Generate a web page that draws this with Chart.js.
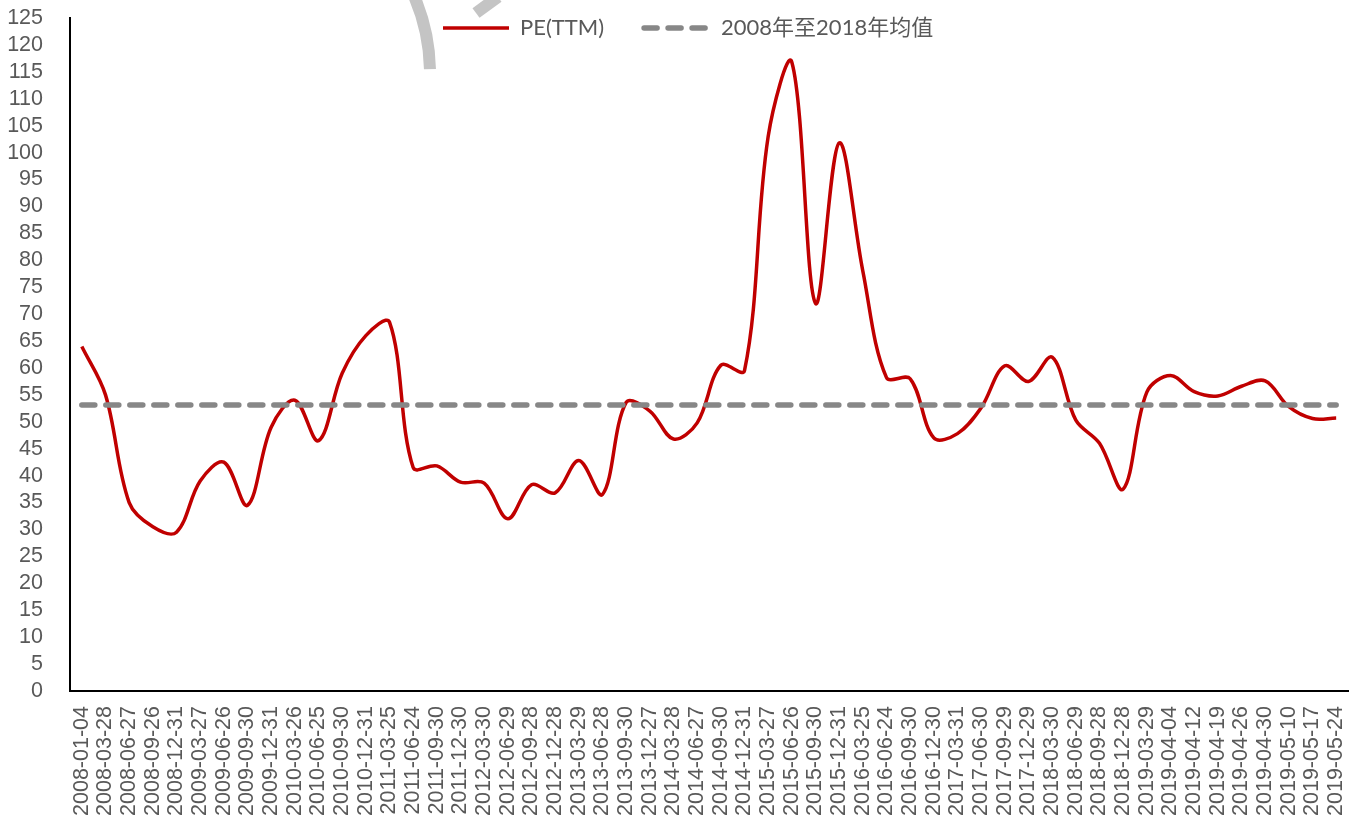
<!DOCTYPE html>
<html>
<head>
<meta charset="utf-8">
<script src="https://cdn.jsdelivr.net/npm/chart.js@4"></script>
<style>
  body { margin: 0; background: #fff; }
  canvas { display: block; }
</style>
</head>
<body>
<canvas id="peChart" width="1361" height="819"></canvas>
<script>
// --- DATA ---
const dateLabels = [
    '2008-01-04', '2008-03-28', '2008-06-27', '2008-09-26', '2008-12-31',
    '2009-03-27', '2009-06-26', '2009-09-30', '2009-12-31',
    '2010-03-26', '2010-06-25', '2010-09-30', '2010-12-31',
    '2011-03-25', '2011-06-24', '2011-09-30', '2011-12-30',
    '2012-03-30', '2012-06-29', '2012-09-28', '2012-12-28',
    '2013-03-29', '2013-06-28', '2013-09-30', '2013-12-27',
    '2014-03-28', '2014-06-27', '2014-09-30', '2014-12-31',
    '2015-03-27', '2015-06-26', '2015-09-30', '2015-12-31',
    '2016-03-25', '2016-06-24', '2016-09-30', '2016-12-30',
    '2017-03-31', '2017-06-30', '2017-09-29', '2017-12-29',
    '2018-03-30', '2018-06-29', '2018-09-28', '2018-12-28',
    '2019-03-29', '2019-04-04', '2019-04-12', '2019-04-19', '2019-04-26',
    '2019-04-30', '2019-05-10', '2019-05-17', '2019-05-24'
];

const peTTM = [
    64, 55, 35, 30.5, 29.5,
    39, 42.5, 34.5, 49,
    54, 46.5, 59, 66,
    68.5, 41.5, 41.8, 38.8,
    38.6, 32, 38.3, 36.8,
    42.8, 36.5, 53.6, 52,
    46.8, 49.8, 60.5, 59.5,
    103, 116.8, 72, 101.8,
    78, 58.2, 58, 47,
    47.8, 52.6, 60.4, 57.5,
    62, 50.3, 46, 37.5,
    55.5, 58.6, 55.6, 54.8, 56.6,
    57.6, 52.8, 50.6, 50.7
];

// moyenne 2008-2018
const meanPE = 53.1;
const meanLine = dateLabels.map(() => meanPE);

const yTicks = { min: 0, max: 125, step: 5 };

const TICK_FONT = "'Liberation Sans', Arial, sans-serif";
const LEGEND_FONT = "Lato, 'Noto Sans CJK SC', sans-serif";
const TXT = '#595959';

// --- filigrane gris en haut (arc du logo) ---
const watermark = {
    id: 'watermark',
    beforeDatasetsDraw(chart) {
        const ctx = chart.ctx;
        ctx.save();
        ctx.strokeStyle = '#c4c4c4';
        ctx.lineWidth = 12;
        ctx.beginPath();
        ctx.arc(236, 73, 194, -0.40, -0.02);
        ctx.stroke();
        ctx.beginPath();
        ctx.moveTo(476, 13);
        ctx.lineTo(498, -3);
        ctx.stroke();
        ctx.restore();
    }
};

// --- légende posée sur la zone du graphique ---
const legendPlace = {
    id: 'legendPlace',
    afterLayout(chart) {
        const lg = chart.legend;
        const pad = lg.options.labels.padding;
        lg.left = 443 - pad;
        lg.right = lg.left + 900;
        lg.width = 900;
        lg.top = 28 - pad - 11;
        lg.bottom = lg.top + 80;
        lg.height = 80;
    }
};

// échantillons de légende : reprendre tirets / épaisseur du dataset
function legendLabels(chart) {
    const items = Chart.defaults.plugins.legend.labels.generateLabels(chart);
    items.forEach(it => {
        const ds = chart.data.datasets[it.datasetIndex];
        it.lineDash = ds.borderDash || [];
        it.lineCap = ds.borderCapStyle || 'butt';
        it.lineWidth = ds.borderWidth;
        it.strokeStyle = ds.borderColor;
        it.pointStyle = 'line';
    });
    return items.sort((a, b) => a.datasetIndex - b.datasetIndex);
}

const ctx = document.getElementById('peChart').getContext('2d');

new Chart(ctx, {
    type: 'line',
    data: {
        labels: dateLabels,
        datasets: [{
            label: 'PE(TTM)',
            data: peTTM,
            borderColor: '#c00000',
            borderWidth: 3.5,
            pointRadius: 0,
            tension: 0.35,
            fill: false,
            order: 1
        }, {
            label: '2008年至2018年均值',
            data: meanLine,
            borderColor: '#878787',
            borderWidth: 5.5,
            borderDash: [13, 11],
            borderCapStyle: 'round',
            pointRadius: 0,
            fill: false,
            order: 0
        }]
    },
    options: {
        responsive: false,
        animation: false,
        layout: { padding: { left: 0, top: 17, right: 13, bottom: 0 } },
        plugins: {
            tooltip: { enabled: false },
            legend: {
                position: 'top',
                align: 'start',
                maxHeight: 1,
                labels: {
                    usePointStyle: true,
                    pointStyle: 'line',
                    pointStyleWidth: 66,
                    padding: 40,
                    color: TXT,
                    font: { family: LEGEND_FONT, size: 22 },
                    generateLabels: legendLabels
                }
            }
        },
        scales: {
            x: {
                offset: true,
                grid: { display: false, drawTicks: false },
                border: { display: true, color: '#000', width: 2 },
                ticks: {
                    autoSkip: false,
                    maxRotation: 90,
                    minRotation: 90,
                    padding: 15,
                    color: TXT,
                    font: { family: TICK_FONT, size: 21.5 }
                },
                afterFit(scale) {
                    scale.height = 128;
                    scale.paddingLeft = 0;
                    scale.paddingRight = 0;
                }
            },
            y: {
                min: yTicks.min,
                max: yTicks.max,
                grid: { display: false, drawTicks: false },
                border: { display: true, color: '#000', width: 2 },
                ticks: {
                    stepSize: yTicks.step,
                    autoSkip: false,
                    padding: 27,
                    color: TXT,
                    font: { family: TICK_FONT, size: 21.5 }
                },
                afterFit(scale) {
                    scale.width = 70;
                    scale.paddingTop = 0;
                    scale.paddingBottom = 0;
                }
            }
        }
    },
    plugins: [watermark, legendPlace]
});
</script>
</body>
</html>
